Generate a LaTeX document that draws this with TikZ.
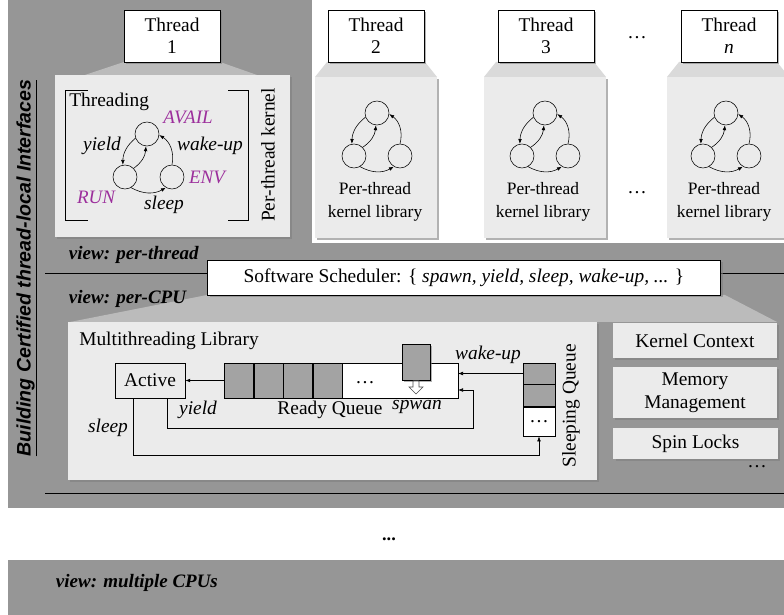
\documentclass[tikz,border=0pt]{standalone}
\usepackage{fontspec}
\setmainfont{Liberation Serif}
\newfontfamily\headfont{Liberation Sans}
\usetikzlibrary{arrows.meta,shadows,calc,positioning}

\definecolor{bggray}{HTML}{969696}
\definecolor{panelfill}{HTML}{EBEBEB}
\definecolor{wedgegray}{HTML}{BBBBBB}
\definecolor{wedgelight}{HTML}{DADADA}
\definecolor{cellgray}{HTML}{A3A3A3}
\definecolor{statecol}{HTML}{9C2F9C}

\begin{document}
\begin{tikzpicture}[x=0.025cm, y=-0.025cm,
    every node/.style={font=\fontsize{13.8}{16}\selectfont},
    shdw/.style={drop shadow={shadow xshift=1.5pt, shadow yshift=-1.5pt, opacity=0.6}},
    thr/.style={draw, fill=white, align=center, minimum width=2.4cm, minimum height=1.3cm, inner sep=1pt, shdw},
    panel/.style={fill=panelfill, shdw},
    st/.style={circle, draw, minimum size=0.6cm, inner sep=0pt},
    arr/.style={-{Latex[length=3.5pt,width=2.6pt]}},
    lbl/.style={font=\fontsize{13.8}{16}\selectfont\itshape},
    stname/.style={font=\fontsize{13.5}{16}\selectfont\itshape, text=statecol},
    view/.style={anchor=west, font=\fontsize{13.5}{16}\selectfont\bfseries\itshape},
    cell/.style={draw, fill=cellgray, minimum width=0.725cm, minimum height=0.875cm, inner sep=0pt},
    side/.style={fill=panelfill, shdw, align=center, minimum width=4.1cm, inner sep=1pt}]

    \useasboundingbox (0,0) rectangle (784,615);

    % fondo
    \fill[bggray] (8,0) rectangle (784,508);
    \fill[bggray] (8,560) rectangle (784,615);
    \fill[white] (312,0) rectangle (784,243);

    % thread 1
    \fill[wedgegray] (124,62) -- (220,62) -- (257,75) -- (85,75) -- cycle;
    \node[panel, minimum width=5.875cm, minimum height=4.05cm] (p1) at (172.5,156) {};
    \node[thr] (t1) at (172,36) {Thread\\1};

    % thread 2, 3, n
    \foreach \nm/\cx in {2/376,3/545,n/728}{
        \fill[wedgelight] ({\cx-49},62) -- ({\cx+49},62) -- ({\cx+61},77) -- ({\cx-61},77) -- cycle;
        \node[panel, minimum width=3.05cm, minimum height=4.025cm] (p\nm) at (\cx,157.5) {};
    }
    \node[thr] (t2) at (376,36) {Thread\\2};
    \node[thr] (t3) at (546,36) {Thread\\3};
    \node[thr] (tn) at (729,36) {Thread\\\textit{n}};
    \node (tdots) at (637,38) {\dots};
    \node (pdots) at (637,193) {\dots};

    % automa del thread 1
    \draw (88,90) -- (65,90) -- (65,220) -- (88,220);
    \draw (228,90) -- (248,90) -- (248,220) -- (228,220);
    \node[anchor=west, inner sep=0pt] (thrd) at (69,102) {Threading};
    \node[rotate=90] (ptk) at (268,155) {Per-thread kernel};
    \node[st] (av1) at (147,134) {};
    \node[st] (ru1) at (125,177) {};
    \node[st] (en1) at (172,177) {};
    \draw[arr] (av1.200) to[bend right=25] (ru1.100);
    \draw[arr] (ru1.45) to[bend right=25] (av1.265);
    \draw[arr] (ru1.-60) to[bend right=30] (en1.-120);
    \draw[arr] (en1.90) to[bend right=35] (av1.-5);
    \node[stname] (avail) at (188,117) {AVAIL};
    \node[stname] (run) at (96,197) {RUN};
    \node[stname] (env) at (207,177) {ENV};
    \node[lbl] (yl1) at (102,146) {yield};
    \node[lbl] (wk1) at (210,146) {wake-up};
    \node[lbl] (sl1) at (164,205) {sleep};

    % automi dei thread 2..n
    \foreach \nm/\cx in {2/377,3/545,n/726}{
        \node[st] (av\nm) at (\cx,113) {};
        \node[st] (ru\nm) at ({\cx-23},156) {};
        \node[st] (en\nm) at ({\cx+23},156) {};
        \draw[arr] (av\nm.200) to[bend right=25] (ru\nm.100);
        \draw[arr] (ru\nm.45) to[bend right=25] (av\nm.265);
        \draw[arr] (ru\nm.-60) to[bend right=30] (en\nm.-120);
        \draw[arr] (en\nm.90) to[bend right=35] (av\nm.-5);
        \node[align=center, font=\fontsize{12.4}{16.3}\selectfont] (lib\nm) at ({\cx-2},202) {Per-thread\\kernel library};
    }

    % scheduler
    \fill[wedgegray] (207,295) -- (725,295) -- (777,322) -- (70,322) -- cycle;
    \draw (45,273) -- (784,273);
    \draw (45,493) -- (784,493);
    \node[draw, fill=white, shdw, minimum width=12.825cm, minimum height=0.875cm] (sched) at (464,277.5)
        {Software Scheduler: \{ \textit{spawn, yield, sleep, wake-up, ...} \}};

    % viste
    \node[view] (vthr) at (64,255) {view: per-thread};
    \node[view] (vcpu) at (64,299) {view: per-CPU};
    \node[view] (vmul) at (51,583) {view: multiple CPUs};
    \node[font=\fontsize{13}{15}\selectfont\bfseries] (vdots) at (389,539) {...};
    \node[rotate=90, font=\headfont\bfseries\itshape\fontsize{13.9}{16}\selectfont] (title) at (27,268)
        {\underline{Building Certified thread-local Interfaces}};

    % libreria multithreading
    \node[panel, minimum width=13.225cm, minimum height=3.95cm] (mtl) at (332.5,401) {};
    \node[anchor=west, inner sep=0pt] (mtlname) at (79,341) {Multithreading Library};
    \node[draw, minimum width=1.75cm, minimum height=0.875cm, inner sep=0pt] (active) at (150,380.5) {Active};
    \node[cell] (q1) at (239,380.5) {};
    \node[cell, right=0pt of q1] (q2) {};
    \node[cell, right=0pt of q2] (q3) {};
    \node[cell, right=0pt of q3] (q4) {};
    \node[cell, fill=white, right=0pt of q4, minimum width=2.875cm] (q5) {};
    \node (qdots) at (365,383) {\dots};
    \node[draw, fill=cellgray, shdw, minimum width=0.7cm, minimum height=0.9cm, inner sep=0pt] (spawn) at (416,362) {};
    \filldraw[fill=white, draw=black!70] (413,381) -- (419,381) -- (419,387) -- (423,387) -- (416,394)
        -- (409,387) -- (413,387) -- cycle;
    \node[lbl] (spw) at (417,407) {spwan};
    \node (rq) at (330,410) {Ready Queue};

    \node[cell, minimum width=0.8cm, minimum height=0.525cm] (sq1) at (539,373.5) {};
    \node[cell, minimum width=0.8cm, minimum height=0.55cm, below=0pt of sq1] (sq2) {};
    \node[cell, fill=white, minimum width=0.8cm, minimum height=0.725cm, below=0pt of sq2] (sq3) {\dots};
    \node[rotate=90] (sqname) at (571,406) {Sleeping Queue};

    \coordinate (ycorner) at (473,428);
    \draw[arr] (q1.west) -- (active.east);
    \draw[arr] ($(active.south)+(17,0)$) |- (ycorner) |- ($(q5.east)+(0,9.5)$);
    \draw[arr] ($(active.south)+(-17,0)$) |- ($(sq3.south)+(0,19)$) -- (sq3.south);
    \draw[arr] (sq1.west) -- (q5.east |- sq1.west);
    \node[lbl] (wkup) at (488,355) {wake-up};
    \node[lbl] (yld) at (198,410) {yield};
    \node[lbl] (slp) at (108,428) {sleep};

    % componenti a destra
    \node[side, minimum height=0.875cm] (kc) at (695,340.5) {Kernel Context};
    \node[side, minimum height=1.275cm] (mm) at (695,392.5) {Memory\\Management};
    \node[side, minimum height=0.775cm] (sl) at (695.5,443.5) {Spin Locks};
    \node (sdots) at (757,467) {\dots};
\end{tikzpicture}
\end{document}
